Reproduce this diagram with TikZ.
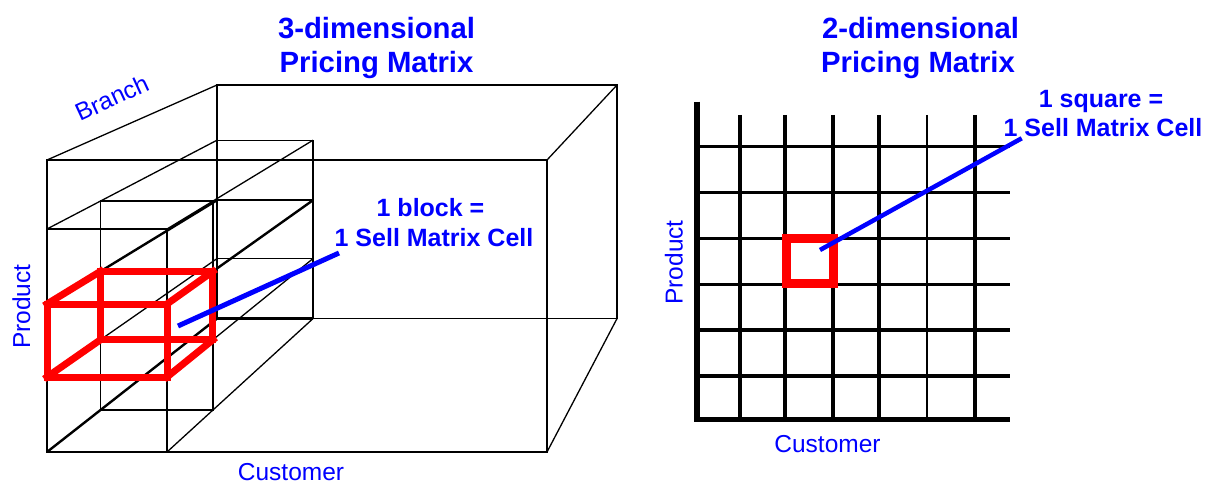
\documentclass[tikz,border=0pt]{standalone}
\usepackage{fontspec}
\setmainfont{Liberation Sans}
\usetikzlibrary{calc}
\definecolor{pblue}{RGB}{0,0,255}
\definecolor{pred}{RGB}{255,0,0}
\begin{document}
\begin{tikzpicture}[x=1pt,y=-1pt,
  wire/.style={line width=1.3pt,black},
  wirethick/.style={line width=2.4pt,black},
  redbox/.style={line width=7pt,pred,line join=miter,line cap=rect},
  redsq/.style={line width=9pt,pred,line join=miter},
  pointer/.style={line width=5pt,pblue},
  gridline/.style={line width=3.4pt,black},
  gridlinethin/.style={line width=2.4pt,black},
  axisline/.style={line width=5.5pt,black},
  titletext/.style={text=pblue,font=\bfseries\fontsize{29.3}{35}\selectfont,inner sep=0pt},
  notetext/.style={text=pblue,font=\bfseries\fontsize{25}{30}\selectfont,inner sep=0pt},
  axistext/.style={text=pblue,font=\fontsize{24.5}{29}\selectfont,inner sep=0pt}]
\useasboundingbox (0,0) rectangle (1215,484);
\fill[white] (0,0) rectangle (1215,484);

% ---------- 3D matrix ----------
\coordinate (vp) at (897,-215);
\coordinate (F1) at (47,160);
\coordinate (F2) at (547,160);
\coordinate (F3) at (547,452);
\coordinate (F4) at (47,452);
\foreach \i in {1,...,4} \coordinate (B\i) at ($(vp)!0.8!(F\i)$);
\foreach \xn/\X in {a/47,b/167}{
  \foreach \yn/\Y in {1/229,2/304,3/377,4/452}{
    \foreach \sn/\s in {f/1,m/0.937,k/0.8}{
      \coordinate (\xn\yn\sn) at ($(vp)!\s!(\X,\Y)$);
    }}}

% big box
\draw[wire] (F1)--(F2)--(F3)--(F4)--cycle;
\draw[wire] (B1)--(B2)--(B3)--(B4)--cycle;
\draw[wire] (F1)--(B1) (F2)--(B2) (F3)--(B3);
\draw[wirethick] (F4)--(B4);

% column: front face
\draw[wire] (a1f)--(b1f)--(b4f);
\draw[wirethick] (a4f)--(b4f);
% column: middle slice
\draw[wire] (a1m)--(b1m)--(b4m)--(a4m)--cycle;
% column: back slice
\draw[wire] (a1k)--(b1k)--(b4k);
\draw[wire] (a3k)--(b3k);
\draw[wirethick] (a2k)--(b2k);
\draw[wirethick] (a4k)--(b4k);
% column: depth lines
\draw[wire] (a1f)--(a1k) (b1f)--(b1k) (a3f)--(a3k) (b3f)--(b3k) (b4f)--(b4k);
\draw[wirethick] (a2f)--(a2k) (b2f)--(b2k);

% red block
\draw[redbox] (a2f)--(b2f)--(b3f)--(a3f)--cycle;
\draw[redbox] (a2m)--(b2m)--(b3m)--(a3m)--cycle;
\draw[redbox] (a2f)--(a2m) (b2f)--(b2m) (b3f)--(b3m) (a3f)--(a3m);

% pointer
\coordinate (p1s) at (178,326);
\coordinate (p1e) at (339,253);
\draw[pointer] (p1s)--(p1e);

% labels
\node[titletext,anchor=base] (t1a) at (376.5,39) {3-dimensional};
\node[titletext,anchor=base] (t1b) at (376.5,73) {Pricing Matrix};
\node[notetext,anchor=base] (n1a) at (430.5,216.7) {1 block =};
\node[notetext,anchor=base] (n1b) at (434,246) {1 Sell Matrix Cell};
\node[axistext,anchor=base west,rotate=24.8] (br) at (80,122) {Branch};
\node[axistext,anchor=base,rotate=90] (pr1) at (30,306.7) {Product};
\node[axistext,anchor=base] (cu1) at (291,480.5) {Customer};

% ---------- 2D matrix ----------
\foreach \x in {740,785,833,879,975}
  \draw[gridline] (\x,115)--(\x,419);
\draw[gridlinethin] (927,115)--(927,419);
\foreach \y in {146.7,192.7,238.3,284.3,330,376}
  \draw[gridline] (697,\y)--(1010,\y);
\coordinate (ax0) at (697,422);
\coordinate (axT) at (697,101.7);
\coordinate (axR) at (1010,419.5);
\draw[axisline] (axT)--(697,419.5)--(axR);
\draw[axisline] (694.25,419.5)--(axR);

\draw[redsq] (786.5,238.3) rectangle (833,283);

\coordinate (p2s) at (820,250);
\coordinate (p2e) at (1021.7,138.3);
\draw[line width=4.5pt,pblue] (p2s)--(p2e);

\node[titletext,anchor=base] (t2a) at (920.5,39) {2-dimensional};
\node[titletext,anchor=base] (t2b) at (918,73) {Pricing Matrix};
\node[notetext,anchor=base] (n2a) at (1101,107.3) {1 square =};
\node[notetext,anchor=base] (n2b) at (1103,136.7) {1 Sell Matrix Cell};
\node[axistext,anchor=base,rotate=90] (pr2) at (682.5,262.5) {Product};
\node[axistext,anchor=base] (cu2) at (827.5,452.5) {Customer};
\end{tikzpicture}
\end{document}
